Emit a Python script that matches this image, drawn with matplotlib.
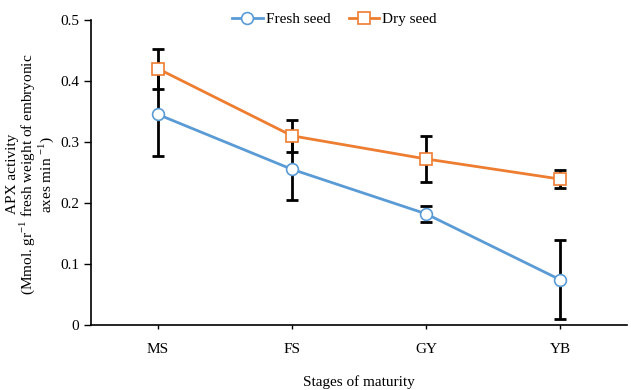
import matplotlib
matplotlib.use("Agg")
import matplotlib.pyplot as plt
import numpy as np

plt.rcParams['font.family'] = ['Liberation Serif', 'DejaVu Serif']
plt.rcParams['mathtext.fontset'] = 'custom'
plt.rcParams['mathtext.rm'] = 'Liberation Serif'

stages = ["MS", "FS", "GY", "YB"]
fresh = [0.345, 0.255, 0.182, 0.074]
fresh_err = [0.068, 0.050, 0.013, 0.065]
dry = [0.420, 0.310, 0.272, 0.239]
dry_err = [0.033, 0.026, 0.038, 0.015]
yticks = [0, 0.1, 0.2, 0.3, 0.4, 0.5]
ytick_labels = ["0", "0.1", "0.2", "0.3", "0.4", "0.5"]

fig = plt.figure(figsize=(6.31, 3.90), dpi=100)
ax = fig.add_axes([0.144, 0.167, 0.85, 0.782])
x = np.arange(len(stages))

blue = '#5B9BD5'
orange = '#ED7D31'

ax.errorbar(x, fresh, yerr=fresh_err, fmt='none', ecolor='black', elinewidth=2, capsize=4, capthick=2, zorder=2)
ax.errorbar(x, dry, yerr=dry_err, fmt='none', ecolor='black', elinewidth=2, capsize=4, capthick=2, zorder=2)
ax.plot(x, fresh, color=blue, lw=2, marker='o', ms=8.5, mfc='white', mec=blue, mew=1.2, label='Fresh seed', zorder=3)
ax.plot(x, dry, color=orange, lw=2, marker='s', ms=8.5, mfc='white', mec=orange, mew=1.2, label='Dry seed', zorder=3)

ax.set_xlim(-0.5, 3.5)
ax.set_ylim(0, 0.5)
ax.set_xticks(x)
ax.set_xticklabels(stages, fontsize=11)
ax.set_yticks(yticks)
ax.set_yticklabels(ytick_labels, fontsize=11)
for s in ['top', 'right']:
    ax.spines[s].set_visible(False)
ax.spines['left'].set_linewidth(1.2)
ax.spines['bottom'].set_linewidth(1.2)
ax.tick_params(axis='y', direction='out', length=5, width=1)
ax.tick_params(axis='x', direction='out', length=3, width=1, pad=10)

ax.set_xlabel('Stages of maturity', fontsize=11, labelpad=14)
fig.text(0.049, 0.553, 'APX activity\n(Mmol. gr$^{-1}$ fresh weight of embryonic\naxes min $^{-1}$)',
         fontsize=11, rotation=90, ha='center', va='center', multialignment='center', linespacing=0.92)

leg = fig.legend(loc='center', bbox_to_anchor=(0.53, 0.95), ncol=2, frameon=False, fontsize=11,
                 handlelength=2.0, columnspacing=1.2, handletextpad=0.2)

fig.savefig('out.png', dpi=100)
